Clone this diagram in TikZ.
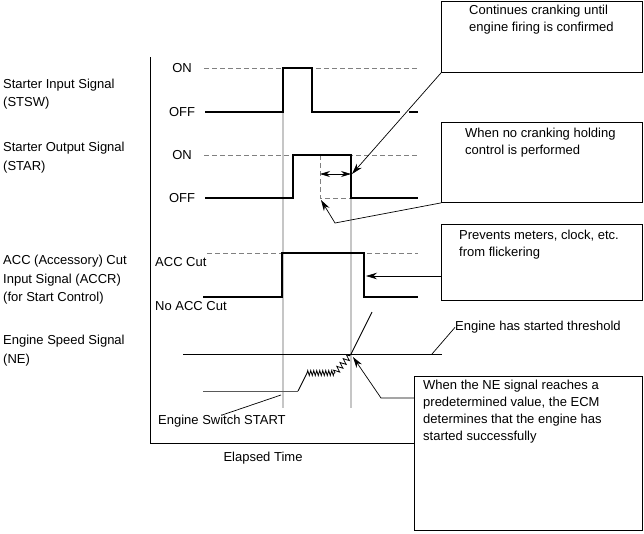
\documentclass[tikz,border=0pt]{standalone}
\usepackage{fontspec}
\setmainfont{Liberation Sans}
\usetikzlibrary{arrows.meta,decorations.pathmorphing}

\begin{document}
\begin{tikzpicture}[x=1pt, y=-1pt,
    sig/.style={line width=1.6pt},
    lvl/.style={gray, dash pattern=on 5pt off 3pt, line width=0.8pt},
    guide/.style={gray!45, line width=1.6pt},
    box/.style={draw, line width=0.9pt, anchor=north west, inner sep=0pt},
    note/.style={anchor=north west, inner sep=0pt, align=left, font=\fontsize{13}{16.7}\selectfont},
    sidenote/.style={note, font=\fontsize{13}{18.3}\selectfont},
    lbl/.style={inner sep=0pt, font=\fontsize{13}{16}\selectfont},
    lead/.style={line width=0.7pt},
    tip/.style={lead, -{Stealth[length=11pt,width=6.5pt]}}]
    \useasboundingbox (0,0) rectangle (644,533);

    % 信号名
    \node[sidenote] (STSW) at (3,78.5) {Starter Input Signal\\(STSW)};
    \node[sidenote] (STAR) at (3,142.3) {Starter Output Signal\\(STAR)};
    \node[sidenote] (ACCR) at (3,255.3) {ACC (Accessory) Cut\\Input Signal (ACCR)\\(for Start Control)};
    \node[sidenote] (NE) at (3,335.3) {Engine Speed Signal\\(NE)};

    \node[lbl, anchor=base] (on1) at (182,72.7) {ON};
    \node[lbl, anchor=base] (off1) at (182,116.7) {OFF};
    \node[lbl, anchor=base] (on2) at (182,159.7) {ON};
    \node[lbl, anchor=base] (off2) at (182,202.7) {OFF};
    \node[lbl, anchor=base west] (acccut) at (155,266.7) {ACC Cut};
    \node[lbl, anchor=base west] (noacc) at (155,310.7) {No ACC Cut};
    \node[lbl, anchor=base west] (esw) at (158,424.7) {Engine Switch START};
    \node[lbl, anchor=base] (time) at (263,461.7) {Elapsed Time};
    \node[lbl, anchor=base west] (thrtxt) at (455,330.7) {Engine has started threshold};

    % 軸とガイド線
    \draw[line width=0.9pt] (150,57) -- (150,443) -- (414,443);
    \draw[guide] (283,112) -- (283,408);
    \draw[guide] (351,198) -- (351,408);

    % STSW
    \draw[lvl] (204,68) -- (418,68);
    \draw[sig] (205,112) -- (283,112) -- (283,68) -- (312,68) -- (312,112) -- (400,112);
    \draw[sig] (409,112) -- (418,112);

    % STAR
    \draw[lvl] (204,155) -- (418,155);
    \draw[lvl] (320,155) -- (320,198) -- (351,198);
    \draw[sig] (205,198) -- (293,198) -- (293,155) -- (351,155) -- (351,198) -- (418,198);

    % ACCR
    \draw[lvl] (207,253) -- (418,253);
    \draw[sig] (203,297) -- (282,297) -- (282,253) -- (364,253) -- (364,297) -- (418,297);

    % NE
    \draw[line width=0.8pt] (183,354) -- (442,354);
    \draw[line width=0.9pt, gray!70!black] (203,391) -- (298,391);
    \draw[line width=0.9pt] (298,391) -- (307,373);
    \draw[line width=0.8pt, decorate, decoration={zigzag, segment length=3pt, amplitude=2.5pt}] (307,373) -- (335,373);
    \draw[line width=0.8pt, decorate, decoration={zigzag, segment length=5pt, amplitude=3pt}] (335,373) -- (351,354);
    \draw[line width=0.9pt] (351,354) -- (372,312);

    % 吹き出し
    \node[box, minimum width=201pt, minimum height=71pt] (B1) at (441,1) {};
    \node[box, minimum width=201pt, minimum height=80pt] (B2) at (441,122) {};
    \node[box, minimum width=201pt, minimum height=76pt] (B3) at (441,224) {};
    \node[box, minimum width=228pt, minimum height=154pt] (B4) at (414,376) {};

    \node[note] (T1) at (469,5.3) {Continues cranking until\\engine firing is confirmed};
    \node[note] (T2) at (465,128.3) {When no cranking holding\\control is performed};
    \node[note] (T3) at (459,230.3) {Prevents meters, clock, etc.\\from flickering};
    \node[note] (T4) at (423,380.3) {When the NE signal reaches a\\predetermined value, the ECM\\determines that the engine has\\started successfully};

    \coordinate (t1) at (352,174);
    \coordinate (k2) at (335,223);
    \coordinate (t2) at (321,200);
    \coordinate (t3) at (366,276);
    \coordinate (k4) at (381,398);
    \coordinate (t4) at (353,357);
    \coordinate (d1) at (320,174);
    \coordinate (d2) at (351,174);
    \coordinate (thr) at (432,354);
    \coordinate (sw) at (281,395);

    \draw[tip] (B1.south west) -- (t1);
    \draw[tip] (B2.south west) -- (k2) -- (t2);
    \draw[tip] (B3.west |- t3) -- (t3);
    \draw[tip] (B4.west |- k4) -- (k4) -- (t4);
    \draw[lead, {Stealth[length=10pt,width=6pt]}-{Stealth[length=10pt,width=6pt]}] (d1) -- (d2);
    \draw[lead] (thr) -- (thrtxt.west);
    \draw[lead] (esw.north) -- (sw);

\end{tikzpicture}
\end{document}
